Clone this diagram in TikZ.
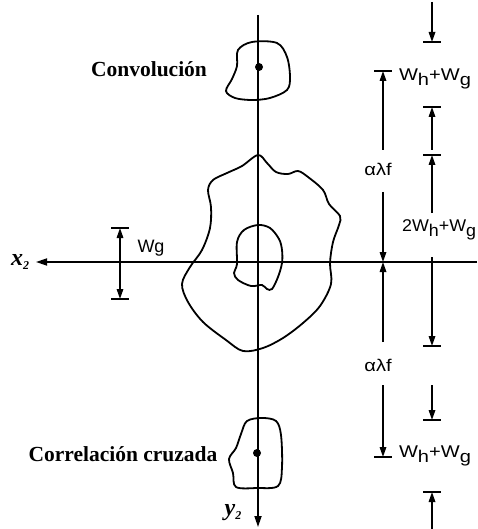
\documentclass[tikz,border=0pt]{standalone}
\usepackage{fontspec}
\setmainfont{Liberation Serif}
\setsansfont{Liberation Sans}
\usetikzlibrary{arrows.meta}
\tikzset{
  axis/.style={line width=1.7pt, -{Triangle[length=11pt,width=7pt]}},
  blob/.style={line width=1.8pt, smooth cycle, tension=0.55},
  dimarrow/.style={line width=1.6pt, -{Triangle[length=10pt,width=6.5pt]}},
  dimbar/.style={line width=1.8pt},
  serlab/.style={font=\fontsize{21.5}{21.5}\selectfont\bfseries, inner sep=0pt},
  axlab/.style={font=\fontsize{24}{24}\selectfont\bfseries\itshape, inner sep=0pt},
  sanslab/.style={font=\sffamily\fontsize{17}{17}\selectfont, inner sep=0pt, xscale=1.18},
}
\newcommand{\lsub}[1]{\raisebox{-4.5pt}{#1}}
\begin{document}
\begin{tikzpicture}[x=1pt,y=-1pt]
\useasboundingbox (0,0) rectangle (477,529);

% axes
\coordinate (ytop) at (258,15);
\coordinate (ybot) at (258,527);
\coordinate (xright) at (477,262);
\coordinate (xleft) at (36,262);
\draw[axis] (ytop) -- (ybot);
\draw[axis] (xright) -- (xleft);
\node[axlab] (x2) at (20,262) {x\raisebox{-4pt}{\fontsize{12}{12}\selectfont 2}};
\node[axlab] (y2) at (233,513) {y\raisebox{-4pt}{\fontsize{12}{12}\selectfont 2}};

% top blob (convolution)
\draw[blob] plot coordinates {(238,50) (252,42) (277,43) (287,57) (290,77) (287,90) (270,98) (252,100) (235,98) (226,91) (232,79) (237,66)};
\fill (259,67) circle (4pt);
\node[serlab] (conv) at (149,69) {Convolución};

% bottom blob (cross-correlation)
\draw[blob] plot coordinates {(247,421) (262,418) (276,421) (281,435) (282,467) (278,486) (257,488) (236,487) (233,473) (229,459) (236,448) (241,434)};
\fill (257,453) circle (4pt);
\node[serlab] (corr) at (123,454) {Correlación cruzada};

% big central blob
\draw[blob] plot coordinates {(258,155) (267,163) (276,172) (288,174) (298,171) (308,177) (323,190) (329,204) (340,216) (339,225) (333,242) (330,263) (331,284) (320,306) (303,323) (283,338) (263,348) (243,351) (226,340) (203,322) (188,302) (182,284) (190,267) (202,250) (210,228) (211,207) (208,190) (213,180) (227,173) (242,166)};

% inner blob
\draw[blob] plot coordinates {(258,225) (270,228) (279,239) (282,250) (282,263) (278,277) (272,289) (267,289) (262,285) (251,286) (238,280) (234,273) (237,264) (237,242) (244,230)};

% Wg dimension
\coordinate (wgc) at (120,262);
\coordinate (wgt) at (120,228);
\coordinate (wgb) at (120,299);
\draw[dimarrow] (wgc) -- (wgt);
\draw[dimarrow] (wgc) -- (wgb);
\draw[dimbar] (111,228) -- (129,228);
\draw[dimbar] (111,299) -- (129,299);
\node[font=\sffamily\fontsize{18}{18}\selectfont, inner sep=0pt] (wg) at (151,248) {Wg};

% left dimension column (x = 383)
\coordinate (L1) at (383,71);
\coordinate (L1s) at (383,150);
\coordinate (Lax) at (383,262);
\coordinate (L2s) at (383,192);
\coordinate (L3s) at (383,342);
\coordinate (L4s) at (383,385);
\coordinate (L4) at (383,457);
\draw[dimbar] (374,71) -- (392,71);
\draw[dimarrow] (L1s) -- (L1);
\node[sanslab] (alf1) at (378,169) {αλf};
\draw[dimarrow] (L2s) -- (Lax);
\draw[dimarrow] (L3s) -- (Lax);
\node[sanslab] (alf2) at (378,365) {αλf};
\draw[dimarrow] (L4s) -- (L4);
\draw[dimbar] (374,457) -- (392,457);

% right dimension column (x = 432)
\coordinate (R0s) at (432,2);
\coordinate (R0) at (432,42);
\draw[dimarrow] (R0s) -- (R0);
\draw[dimbar] (423,42) -- (441,42);
\node[sanslab] (whg1) at (435,79) {W\lsub{h}+W\lsub{g}};
\coordinate (R1s) at (432,150);
\coordinate (R1) at (432,107);
\draw[dimarrow] (R1s) -- (R1);
\draw[dimbar] (423,107) -- (441,107);
\coordinate (R2s) at (432,213);
\coordinate (R2) at (432,155);
\draw[dimarrow] (R2s) -- (R2);
\draw[dimbar] (423,155) -- (441,155);
\node[sanslab, xscale=0.89, anchor=west] (whg2) at (402,230) {2W\lsub{h}+W\lsub{g}};
\coordinate (R3s) at (432,257);
\coordinate (R3) at (432,346);
\draw[dimarrow] (R3s) -- (R3);
\draw[dimbar] (423,346) -- (441,346);
\coordinate (R4s) at (432,385);
\coordinate (R4) at (432,420);
\draw[dimarrow] (R4s) -- (R4);
\draw[dimbar] (423,420) -- (441,420);
\node[sanslab] (whg3) at (435,456) {W\lsub{h}+W\lsub{g}};
\coordinate (R5s) at (432,529);
\coordinate (R5) at (432,492);
\draw[dimarrow] (R5s) -- (R5);
\draw[dimbar] (423,492) -- (441,492);
\end{tikzpicture}
\end{document}
